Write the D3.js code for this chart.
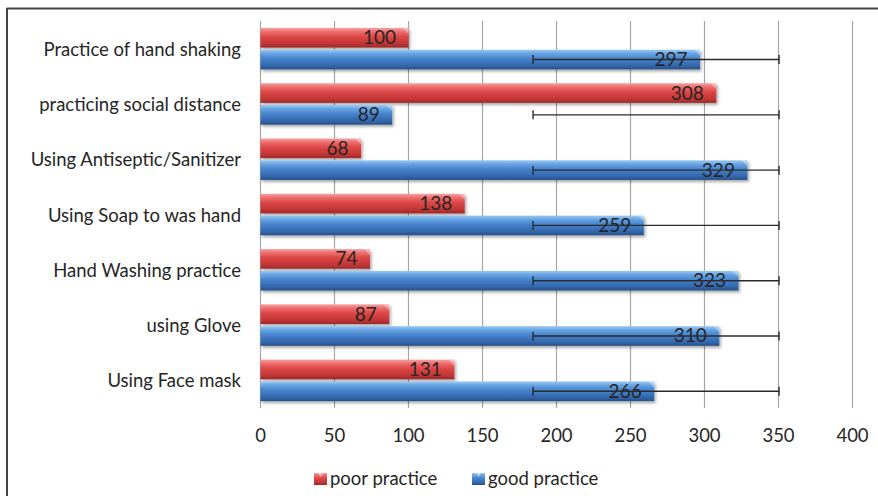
<!DOCTYPE html>
<html>
<head>
<meta charset="utf-8">
<script src="https://cdn.jsdelivr.net/npm/d3@7/dist/d3.min.js"></script>
<style>
  html, body { margin: 0; padding: 0; background: #fff; }
  svg text { font-family: Lato, "Open Sans", sans-serif; fill: #262626; }
</style>
</head>
<body>
<svg id="chart" width="878" height="496"></svg>
<script>
// Categories, top to bottom
const categories = [
  "Practice of hand shaking",
  "practicing social distance",
  "Using Antiseptic/Sanitizer",
  "Using Soap to was hand",
  "Hand Washing practice",
  "using Glove",
  "Using Face mask"
];
const poorPractice = [100, 308, 68, 138, 74, 87, 131];
const goodPractice = [297, 89, 329, 259, 323, 310, 266];
// error bar extent drawn on the good-practice bars
const goodErrorRange = [184.5, 350.7];
const xTicks = [0, 50, 100, 150, 200, 250, 300, 350, 400];
const seriesNames = ["poor practice", "good practice"];

const svg = d3.select("#chart");

// frame
svg.append("line").attr("x1", 7).attr("x2", 878).attr("y1", 8.5).attr("y2", 8.5)
  .attr("stroke", "#444").attr("stroke-width", 2);
svg.append("line").attr("x1", 7).attr("x2", 7).attr("y1", 8).attr("y2", 496)
  .attr("stroke", "#444").attr("stroke-width", 2);

const x = d3.scaleLinear().domain([0, 400]).range([260, 852]);
const y = d3.scaleBand().domain(categories).range([21, 408])
  .paddingInner(0.25).paddingOuter(0.125);
const ySub = d3.scaleBand().domain(seriesNames).range([0, y.bandwidth()]).paddingInner(0.1);

// gradients
const defs = svg.append("defs");
function grad(id, stops) {
  const g = defs.append("linearGradient").attr("id", id)
    .attr("x1", 0).attr("y1", 0).attr("x2", 0).attr("y2", 1);
  stops.forEach(([o, c]) => g.append("stop").attr("offset", o).attr("stop-color", c));
}
grad("gRed", [[0, "#f7a3a3"], [0.18, "#ee7070"], [0.45, "#dc4646"], [0.8, "#c23636"], [1, "#9c2828"]]);
grad("gBlue", [[0, "#9ccaf4"], [0.18, "#6aa6e4"], [0.45, "#4683cc"], [0.8, "#3368ae"], [1, "#264f88"]]);
const shadow = defs.append("filter").attr("id", "shadow")
  .attr("x", "-5%").attr("y", "-30%").attr("width", "110%").attr("height", "180%");
shadow.append("feDropShadow").attr("dx", 1.5).attr("dy", 2).attr("stdDeviation", 1.5)
  .attr("flood-color", "#000").attr("flood-opacity", 0.35);

// vertical gridlines
svg.append("g").selectAll("line").data(xTicks).join("line")
  .attr("x1", d => x(d) + 0.5).attr("x2", d => x(d) + 0.5)
  .attr("y1", 21).attr("y2", 408)
  .attr("stroke", "#a6a6a6").attr("stroke-width", 1.2);

// x axis labels via d3 axis
const xAxis = svg.append("g").attr("transform", "translate(0,424)")
  .call(d3.axisBottom(x).tickValues(xTicks).tickSize(0).tickPadding(5));
xAxis.select(".domain").remove();
xAxis.selectAll("text").style("font-size", "18.5px").style("font-family", "Lato, sans-serif").attr("fill", "#262626");

// category labels
svg.append("g").selectAll("text").data(categories).join("text")
  .attr("x", 241).attr("y", d => y(d) + y.bandwidth() / 2 + 7)
  .attr("text-anchor", "end").style("font-size", "18.5px")
  .text(d => d);

const rows = categories.map((c, i) => ({ cat: c, poor: poorPractice[i], good: goodPractice[i] }));
const series = [
  { key: "poor", name: seriesNames[0], fill: "url(#gRed)" },
  { key: "good", name: seriesNames[1], fill: "url(#gBlue)" }
];

const barsG = svg.append("g");
series.forEach(s => {
  const g = barsG.append("g");
  g.selectAll("rect").data(rows).join("rect")
    .attr("x", x(0) + 0.5)
    .attr("y", d => y(d.cat) + ySub(s.name))
    .attr("width", d => x(d[s.key]) - x(0))
    .attr("height", ySub.bandwidth())
    .attr("fill", s.fill)
    .attr("filter", "url(#shadow)");
  // small bevel at the bar end
  g.selectAll("path").data(rows).join("path")
    .attr("d", d => {
      const x1 = x(d[s.key]) + 0.5, y0 = y(d.cat) + ySub(s.name);
      return `M${x1 - 6},${y0} L${x1},${y0} L${x1},${y0 + 6} Z`;
    })
    .attr("fill", "#ffffff").attr("opacity", 0.35);
});

// value labels
series.forEach(s => {
  svg.append("g").selectAll("text").data(rows).join("text")
    .attr("x", d => x(d[s.key]) - 12)
    .attr("y", d => y(d.cat) + ySub(s.name) + ySub.bandwidth() / 2 + 6.5)
    .attr("text-anchor", "end").style("font-size", "19px")
    .text(d => d[s.key]);
});

// error bars on good-practice bars
const eb = svg.append("g").attr("stroke", "#2b2b2b").attr("stroke-width", 1.4);
rows.forEach(d => {
  const cy = y(d.cat) + ySub("good practice") + ySub.bandwidth() / 2;
  eb.append("line").attr("x1", x(goodErrorRange[0])).attr("x2", x(goodErrorRange[1]))
    .attr("y1", cy).attr("y2", cy);
  goodErrorRange.forEach(v => {
    eb.append("line").attr("x1", x(v)).attr("x2", x(v)).attr("y1", cy - 4.5).attr("y2", cy + 4.5);
  });
});

// legend
const legendItems = [
  { name: seriesNames[0], fill: "url(#gRed)", x: 314 },
  { name: seriesNames[1], fill: "url(#gBlue)", x: 472 }
];
const lg = svg.append("g");
legendItems.forEach(it => {
  lg.append("rect").attr("x", it.x).attr("y", 473).attr("width", 13).attr("height", 12)
    .attr("fill", it.fill);
  lg.append("path").attr("d", `M${it.x + 4},${473} L${it.x + 9},${473} L${it.x + 6.5},${477} Z`)
    .attr("fill", "#fff").attr("opacity", 0.45);
  lg.append("text").attr("x", it.x + 16).attr("y", 484.5).style("font-size", "18.5px").text(it.name);
});
</script>
</body>
</html>
